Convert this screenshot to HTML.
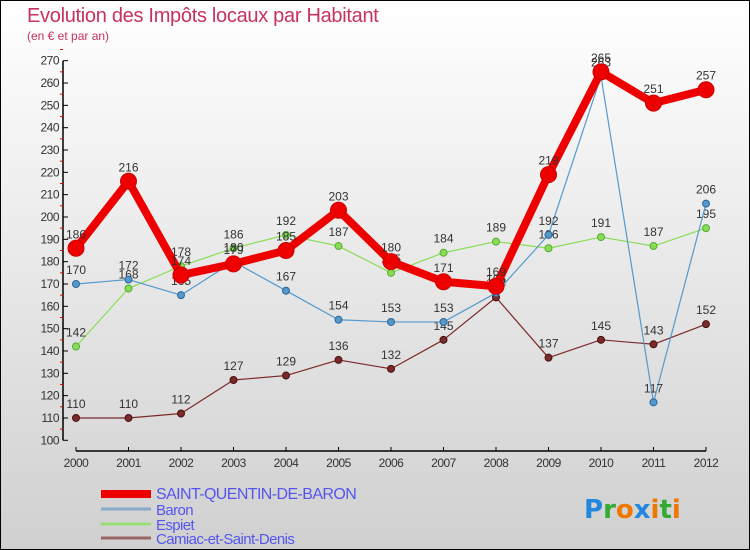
<!DOCTYPE html>
<html><head><meta charset="utf-8"><style>
body{margin:0;}
#wrap{width:748px;height:548px;border:1px solid #000;position:relative;overflow:hidden;background:linear-gradient(#ffffff,#d0d0d0);font-family:"Liberation Sans",sans-serif;}
#title{position:absolute;left:26px;top:4px;font-size:20px;color:#c8325e;letter-spacing:-0.3px;}
#sub{position:absolute;left:26px;top:28px;font-size:12px;color:#c8325e;}
svg{position:absolute;left:0;top:0;}
</style></head><body>
<div id="wrap">
<div id="title">Evolution des Impôts locaux par Habitant</div>
<div id="sub">(en € et par an)</div>
<svg id="svg" width="750" height="550"></svg>
</div>
<script>
const years = ["2000","2001","2002","2003","2004","2005","2006","2007","2008","2009","2010","2011","2012"];
const sqValues = [186,216,174,179,185,203,180,171,169,219,265,251,257];
const baronValues = [170,172,165,180,167,154,153,153,166,192,263,117,206];
const espietValues = [142,168,178,186,192,187,175,184,189,186,191,187,195];
const camiacValues = [110,110,112,127,129,136,132,145,164,137,145,143,152];
const yTicks = [100,110,120,130,140,150,160,170,180,190,200,210,220,230,240,250,260,270];
const legendNames = ["SAINT-QUENTIN-DE-BARON","Baron","Espiet","Camiac-et-Saint-Denis"];

const NS="http://www.w3.org/2000/svg", svg=document.getElementById('svg');
function x(i){return 75+i*52.5;}
function y(v){return 439.3-(v-100)*2.233;}
function mk(t,a,p){const e=document.createElementNS(NS,t);for(const k in a)e.setAttribute(k,a[k]);(p||svg).appendChild(e);return e;}

// axes
const ax=mk('g',{});


mk('line',{x1:62,y1:y(270),x2:62,y2:y(100),stroke:'#000','stroke-width':1.5},ax);
mk('line',{x1:75,y1:450,x2:705,y2:450,stroke:'#000','stroke-width':1.5},ax);
yTicks.forEach(v=>{
  mk('line',{x1:62,y1:y(v),x2:67,y2:y(v),stroke:'#000'},ax);
  mk('line',{x1:59,y1:y(v+5),x2:62,y2:y(v+5),stroke:'#e00'},ax);
  const t=mk('text',{x:58,y:y(v)+4,'text-anchor':'end','font-size':12,fill:'#333','letter-spacing':'-0.5'},ax);
  t.textContent=v;
  
  
});
years.forEach((yr,i)=>{
  mk('line',{x1:x(i),y1:446,x2:x(i),y2:450,stroke:'#000'},ax);
  const t=mk('text',{x:x(i),y:466,'text-anchor':'middle','font-size':12,fill:'#333','letter-spacing':'-0.5'},ax);
  t.textContent=yr;
  
  
});

function series(vals,color,w,r,name,stroke){
  const g=mk('g',{});
  
  
  mk('polyline',{points:vals.map((v,i)=>x(i)+','+y(v)).join(' '),fill:'none',stroke:color,'stroke-width':w,'stroke-linejoin':'round'},g);
  vals.forEach((v,i)=>{
    const c=mk('circle',{cx:x(i),cy:y(v),r:r,fill:color,stroke:stroke,'stroke-width':1},g);
    
    
    const t=mk('text',{x:x(i),y:y(v)-10,'text-anchor':'middle','font-size':12,fill:'#333'},g);
    t.textContent=v;
    
    
  });
}
series(camiacValues,'#7a2a2a',1.2,3.5,'camiac-series','#4a1010');
series(espietValues,'#88dd55',1.2,3.5,'espiet-series','#55aa33');
series(baronValues,'#5599cc',1.2,3.5,'baron-series','#2a6699');
series(sqValues,'#ee0000',8,8,'saint-quentin-series','#cc0000');

// legend
const lg=mk('g',{});


const lc=['#ee0000','#88aacc','#99dd77','#996666'], lw=[8,3,3,3], ly=[492,508,523,537];
legendNames.forEach((n,i)=>{
  const e=mk('g',{},lg);
  
  
  mk('line',{x1:100,y1:ly[i]+(i==0?1:0),x2:150,y2:ly[i]+(i==0?1:0),stroke:lc[i],'stroke-width':lw[i]},e);
  const t=mk('text',{x:155,y:ly[i]+6,'font-size':i==0?16:15,fill:'#5555ee','letter-spacing':'-0.6'},e);
  t.textContent=n;
});
// logo
const lo=mk('text',{x:583,y:517,'font-size':26,'font-weight':'bold','font-family':'DejaVu Sans, sans-serif'});


[['P','#2288dd'],['r','#33aa33'],['o','#ee7700'],['x','#2288dd'],['i','#ee7700'],['t','#33aa33'],['i','#ee7700']].forEach(([c,f])=>{const s=mk('tspan',{fill:f},lo);s.textContent=c;});
</script>
</body></html>
